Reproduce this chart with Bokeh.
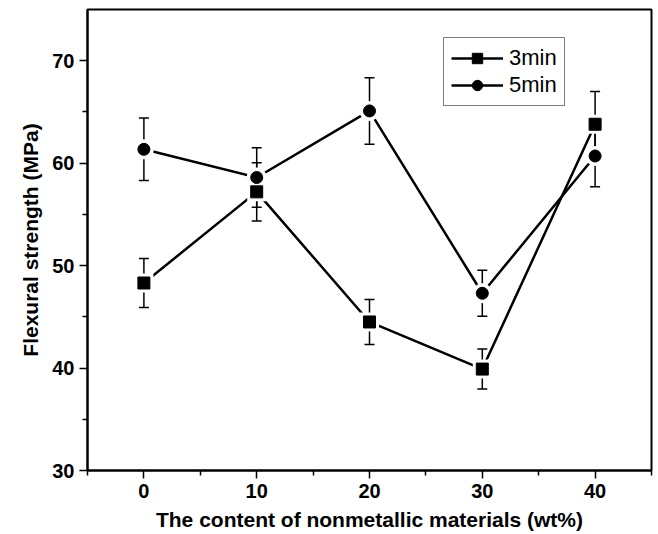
from bokeh.plotting import figure
from bokeh.models import ColumnDataSource, Whisker, TeeHead, Legend, LegendItem, FixedTicker, Range1d
from bokeh.embed import file_html
from bokeh.resources import INLINE

content = [0, 10, 20, 30, 40]
strength_3min = [48.3, 57.2, 44.5, 39.9, 63.8]
err_3min = [2.4, 2.85, 2.2, 1.95, 3.2]
strength_5min = [61.35, 58.6, 65.1, 47.3, 60.7]
err_5min = [3.05, 2.9, 3.25, 2.25, 3.0]

x_ticks = [0, 10, 20, 30, 40]
x_minor = [-5, 5, 15, 25, 35, 45]
y_ticks = [30, 40, 50, 60, 70]
y_minor = [35, 45, 55, 65]

FONT = "Liberation Sans"

def src(y, e):
    return ColumnDataSource(dict(x=content, y=y,
                                 upper=[a + b for a, b in zip(y, e)],
                                 lower=[a - b for a, b in zip(y, e)]))

s3 = src(strength_3min, err_3min)
s5 = src(strength_5min, err_5min)

p = figure(width=658, height=534, output_backend="svg", toolbar_location=None,
           x_range=Range1d(-5, 45), y_range=Range1d(30, 75))
p.min_border_left = 87
p.min_border_right = 7
p.min_border_top = 9
p.min_border_bottom = 64
p.background_fill_color = "white"
p.border_fill_color = "white"
p.grid.visible = False
p.outline_line_color = "black"
p.outline_line_width = 2

p.xaxis.ticker = FixedTicker(ticks=x_ticks, minor_ticks=x_minor)
p.yaxis.ticker = FixedTicker(ticks=y_ticks, minor_ticks=y_minor)
for ax in (p.xaxis[0], p.yaxis[0]):
    ax.axis_line_width = 2
    ax.major_tick_line_width = 1.5
    ax.minor_tick_line_width = 1.5
    ax.major_tick_in = 0
    ax.major_tick_out = 8
    ax.minor_tick_in = 0
    ax.minor_tick_out = 5
    ax.major_label_text_font = FONT
    ax.major_label_text_font_style = "bold"
    ax.major_label_text_font_size = "20px"
    ax.major_label_text_color = "black"
    ax.axis_label_text_font = FONT
    ax.axis_label_text_font_style = "bold"
    ax.axis_label_text_font_size = "21px"
    ax.axis_label_text_color = "black"
    ax.major_label_standoff = 5
    ax.axis_label_standoff = 7

p.xaxis.axis_label = "The content of nonmetallic materials (wt%)"
p.yaxis.axis_label = "Flexural strength (MPa)"

l3 = p.line("x", "y", source=s3, line_color="black", line_width=2.5)
l5 = p.line("x", "y", source=s5, line_color="black", line_width=2.5)

# white halos (gap between line and marker)
p.scatter("x", "y", source=s3, marker="square", size=19, fill_color="white", line_color=None)
p.scatter("x", "y", source=s5, marker="circle", size=20, fill_color="white", line_color=None)

for s in (s3, s5):
    w = Whisker(base="x", upper="upper", lower="lower", source=s,
                line_color="black", line_width=1.5,
                upper_head=TeeHead(size=10, line_color="black", line_width=1.5),
                lower_head=TeeHead(size=10, line_color="black", line_width=1.5))
    p.add_layout(w)

m3 = p.scatter("x", "y", source=s3, marker="square", size=12, fill_color="black", line_color="black")
m5 = p.scatter("x", "y", source=s5, marker="circle", size=12, fill_color="black", line_color="black")

legend = Legend(items=[LegendItem(label="3min", renderers=[l3, m3]),
                       LegendItem(label="5min", renderers=[l5, m5])],
                location=(356, 364))
legend.border_line_color = "black"
legend.border_line_width = 1.5
legend.background_fill_color = "white"
legend.background_fill_alpha = 1
legend.margin = 0
legend.padding = 7
legend.spacing = 1
legend.glyph_width = 52
legend.glyph_height = 26
legend.label_height = 26
legend.label_standoff = 6
legend.label_text_font = FONT
legend.label_text_font_size = "22px"
legend.label_text_color = "black"
p.add_layout(legend, "center")

open("out.html", "w").write(file_html(p, INLINE))
